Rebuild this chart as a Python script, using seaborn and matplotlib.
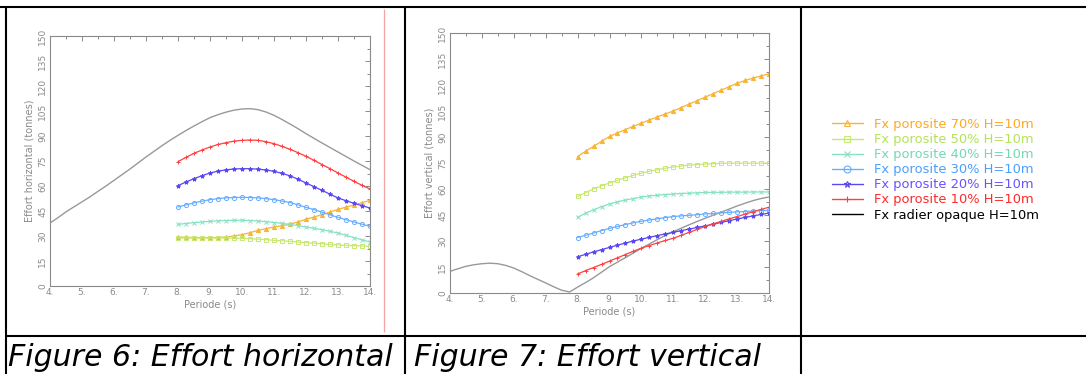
"""
Effort horizontal / vertical sur radier poreux (H=10m).
Deux graphes cote a cote + legende commune, dans un tableau avec legendes.
"""
import numpy as np
import matplotlib
matplotlib.use("Agg")
import matplotlib.pyplot as plt
from matplotlib.lines import Line2D
from matplotlib.ticker import MultipleLocator, FixedLocator
import seaborn as sns

OUTPUT_FILE = "out.png"

# grilles de periodes (s)
PERIODE_OPAQUE = np.arange(4.0, 14.01, 0.25)
PERIODE_PORO = np.arange(8.0, 14.01, 0.25)

# --- Figure 6 : effort horizontal (tonnes) ---
FH_OPAQUE = [37.8, 41.0, 44.5, 47.5, 50.5, 53.5, 56.8, 60.0, 63.4, 66.8, 70.2,
             73.8, 77.4, 80.8, 84.2, 87.4, 90.4, 93.3, 96.0, 98.6, 101.0,
             102.8, 104.3, 105.5, 106.2, 106.4, 105.8, 104.4, 102.4, 99.9, 97.2,
             94.4, 91.4, 88.6, 85.8, 83.1, 80.4, 77.7, 75.0, 72.4, 69.8]
FH_P10 = [74.6, 77.2, 79.6, 81.6, 83.4, 84.9, 86.0, 86.9, 87.4, 87.6, 87.4, 86.6,
          85.4, 83.8, 82.0, 80.0, 77.8, 75.4, 72.9, 70.4, 67.8, 65.3, 62.8, 60.4, 58.2]
FH_P20 = [60.2, 62.4, 64.4, 66.2, 67.8, 68.9, 69.7, 70.2, 70.4, 70.4, 70.1, 69.6,
          68.8, 67.6, 66.1, 64.1, 61.8, 59.6, 57.4, 55.1, 52.8, 51.2, 49.6, 48.2, 46.8]
FH_P30 = [47.4, 48.7, 49.9, 50.9, 51.8, 52.4, 52.9, 53.1, 53.2, 53.1, 52.9, 52.4,
          51.8, 51.0, 50.1, 48.7, 47.2, 45.8, 44.3, 42.7, 41.2, 39.8, 38.4, 37.1, 35.8]
FH_P40 = [37.0, 37.5, 38.0, 38.4, 38.8, 39.1, 39.3, 39.4, 39.4, 39.3, 39.0, 38.6,
          38.1, 37.6, 37.0, 36.2, 35.4, 34.6, 33.8, 32.8, 31.8, 30.4, 29.0, 27.7, 26.4]
FH_P50 = [28.8, 28.8, 28.8, 28.8, 28.8, 28.8, 28.8, 28.7, 28.6, 28.4, 28.1, 27.8,
          27.4, 27.1, 26.8, 26.4, 26.0, 25.7, 25.3, 25.0, 24.6, 24.4, 24.2, 24.0, 23.8]
FH_P70 = [29.4, 29.2, 29.1, 29.0, 29.0, 29.1, 29.4, 30.0, 30.8, 32.0, 33.4, 34.4,
          35.4, 36.2, 37.0, 38.5, 40.0, 41.4, 42.8, 44.4, 46.0, 47.3, 48.6, 50.0, 51.4]

# --- Figure 7 : effort vertical (tonnes) ---
FV_OPAQUE = [12.5, 14.0, 15.4, 16.3, 16.9, 17.2, 16.9, 15.9, 14.4, 12.3, 10.0,
             7.9, 5.8, 3.6, 1.6, 0.6, 3.4, 6.0, 8.8, 12.0, 15.2,
             17.8, 20.4, 23.1, 25.8, 28.3, 30.8, 33.2, 35.4, 37.4, 39.4,
             41.3, 43.1, 44.9, 46.6, 48.4, 50.2, 51.8, 53.3, 54.5, 55.4]
FV_P10 = [11.0, 12.9, 14.7, 16.5, 18.4, 20.3, 22.2, 24.1, 25.9, 27.4, 28.9, 30.3,
          31.6, 33.3, 35.0, 36.7, 38.4, 39.9, 41.3, 42.8, 44.1, 45.5, 46.9, 48.2, 49.5]
FV_P20 = [20.9, 22.3, 23.7, 25.0, 26.3, 27.6, 28.8, 30.0, 31.1, 32.1, 33.1, 34.1,
          35.0, 36.0, 36.9, 37.8, 38.7, 39.7, 40.7, 41.7, 42.7, 43.6, 44.5, 45.3, 46.1]
FV_P30 = [32.0, 33.3, 34.6, 36.0, 37.3, 38.4, 39.5, 40.5, 41.4, 42.1, 42.8, 43.5,
          44.1, 44.5, 44.8, 45.2, 45.6, 45.9, 46.2, 46.5, 46.8, 47.0, 47.3, 47.5, 47.7]
FV_P40 = [43.7, 46.0, 48.0, 49.8, 51.4, 52.6, 53.6, 54.5, 55.4, 56.0, 56.4, 56.8,
          57.1, 57.4, 57.6, 57.8, 58.0, 58.1, 58.1, 58.2, 58.2, 58.2, 58.3, 58.3, 58.3]
FV_P50 = [55.7, 57.9, 60.0, 61.8, 63.5, 65.0, 66.5, 67.9, 69.1, 70.2, 71.1, 72.0,
          72.7, 73.3, 73.8, 74.1, 74.4, 74.6, 74.8, 74.9, 74.9, 74.9, 74.9, 74.9, 74.9]
FV_P70 = [78.7, 81.8, 84.6, 87.5, 90.3, 92.4, 94.3, 96.2, 98.0, 99.8, 101.6, 103.3,
          105.0, 107.0, 109.0, 111.0, 113.0, 115.0, 117.0, 119.0, 121.0, 122.6, 124.0,
          125.3, 126.4]

X_TICKS = list(range(4, 15))
X_TICK_LABELS = [f"{v}." for v in X_TICKS]
Y_TICKS = list(range(0, 151, 15))

LABELS = ["Fx porosite 70% H=10m", "Fx porosite 50% H=10m", "Fx porosite 40% H=10m",
          "Fx porosite 30% H=10m", "Fx porosite 20% H=10m", "Fx porosite 10% H=10m",
          "Fx radier opaque H=10m"]

# (couleur courbe, couleur texte legende, marqueur, marqueur plein ?)
STYLES = [
    ("#f7b436", "#ffa81e", "^", True),
    ("#c8e872", "#b4e25a", "s", False),
    ("#86e2c4", "#74d8b2", "x", False),
    ("#6aaeff", "#4c9fff", "o", False),
    ("#5848f2", "#6a52ff", "*", True),
    ("#ff4040", "#ff2a2a", "+", True),
]
OPAQUE_COLOR = "#999999"
AXIS_GRAY = "#8a8a8a"

sns.set_theme(style="white")
plt.rcParams['font.family'] = ['DejaVu Sans']


def draw_panel(ax, opaque, series, ylabel):
    sns.lineplot(x=PERIODE_OPAQUE, y=opaque, ax=ax, color=OPAQUE_COLOR,
                 linewidth=1.0, legend=False)
    for vals, (col, _, mk, filled) in zip(series, STYLES):
        sns.lineplot(x=PERIODE_PORO, y=vals, ax=ax, color=col, linewidth=0.9,
                     marker=mk, markersize=3.0, markeredgewidth=0.7,
                     markerfacecolor=col if filled else "none",
                     markeredgecolor=col, legend=False)
    ax.set_xlim(4, 14)
    ax.set_ylim(0, 150)
    ax.xaxis.set_major_locator(FixedLocator(X_TICKS))
    ax.set_xticklabels(X_TICK_LABELS)
    ax.xaxis.set_minor_locator(MultipleLocator(0.5))
    ax.set_yticks(Y_TICKS)
    ax.set_yticklabels([str(v) for v in Y_TICKS], rotation=90, va="center")
    ax.yaxis.set_minor_locator(MultipleLocator(7.5))
    ax.tick_params(which="both", direction="in", top=True, right=True,
                   color=AXIS_GRAY, width=0.7, labelcolor=AXIS_GRAY, labelsize=6.5)
    ax.tick_params(which="major", length=3.5)
    ax.tick_params(which="minor", length=2)
    ax.tick_params(axis="x", pad=1.5)
    ax.tick_params(axis="y", pad=2)
    for sp in ax.spines.values():
        sp.set_color(AXIS_GRAY)
        sp.set_linewidth(0.8)
    ax.set_xlabel("Periode (s)", fontsize=7, color=AXIS_GRAY, labelpad=2)
    ax.set_ylabel(ylabel, fontsize=7, color=AXIS_GRAY, labelpad=3)


def draw_table(fig):
    W, H = 1086.0, 374.0

    def line(x0, y0, x1, y1, color="black", lw=1.5):
        fig.add_artist(Line2D([x0 / W, x1 / W], [1 - y0 / H, 1 - y1 / H],
                              color=color, linewidth=lw,
                              transform=fig.transFigure, solid_capstyle="butt"))

    line(0, 7, W, 7)
    line(6, 7, 6, H)
    line(405, 7, 405, H)
    line(801, 7, 801, H)
    line(6, 336, W, 336)
    # trait rouge residuel a droite de la figure 6
    line(384, 9, 384, 332, color="#f5a3a3", lw=0.9)

    cap = dict(fontsize=21.6, style="italic", color="black", va="baseline", ha="left")
    fig.text(8 / W, 1 - 366 / H, "Figure 6: Effort horizontal", **cap)
    fig.text(414 / W, 1 - 366 / H, "Figure 7: Effort vertical", **cap)


def draw_legend(fig):
    handles = [Line2D([], [], color=col, marker=mk, markersize=5,
                      markerfacecolor="none", markeredgecolor=col,
                      markeredgewidth=0.8, linewidth=1.0)
               for col, _, mk, _ in STYLES]
    handles.append(Line2D([], [], color="black", linewidth=1.0))
    leg = fig.legend(handles, LABELS, loc="upper left",
                     bbox_to_anchor=(832 / 1086, 1 - 118 / 374),
                     frameon=False, fontsize=9.4, handlelength=2.35,
                     handletextpad=0.85, labelspacing=0.16, borderaxespad=0,
                     borderpad=0)
    text_cols = [s[1] for s in STYLES] + ["black"]
    for txt, c in zip(leg.get_texts(), text_cols):
        txt.set_color(c)


def main():
    fig = plt.figure(figsize=(10.86, 3.74), dpi=100)
    fig.patch.set_facecolor("white")

    ax1 = fig.add_axes([50 / 1086, 1 - 286 / 374, 320 / 1086, 250 / 374])
    ax2 = fig.add_axes([450 / 1086, 1 - 293 / 374, 319 / 1086, 260 / 374])

    draw_panel(ax1, FH_OPAQUE, [FH_P70, FH_P50, FH_P40, FH_P30, FH_P20, FH_P10],
               "Effort horizontal (tonnes)")
    draw_panel(ax2, FV_OPAQUE, [FV_P70, FV_P50, FV_P40, FV_P30, FV_P20, FV_P10],
               "Effort vertical (tonnes)")

    draw_table(fig)
    draw_legend(fig)

    fig.savefig(OUTPUT_FILE, dpi=100)
    plt.close(fig)


if __name__ == "__main__":
    main()
